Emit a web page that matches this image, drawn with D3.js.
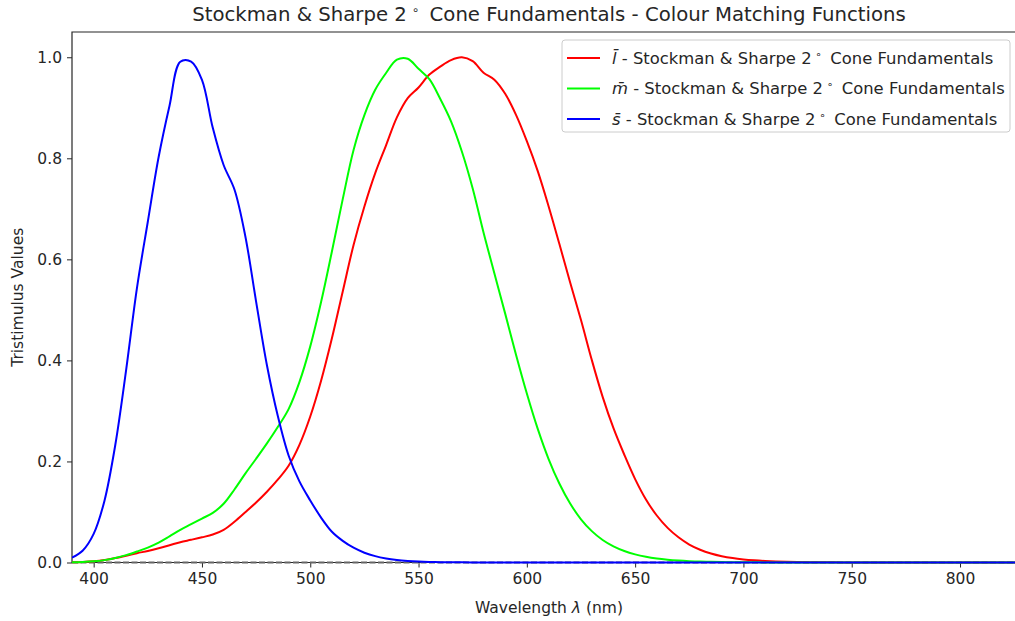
<!DOCTYPE html>
<html>
<head>
<meta charset="utf-8">
<script src="https://cdn.jsdelivr.net/npm/d3@7"></script>
<style>
    body { margin: 0; background: #fff; }
    text { font-family: "DejaVu Sans", sans-serif; fill: #262626; }
</style>
</head>
<body>
<script>
// Stockman & Sharpe 2 degree cone fundamentals, 5 nm steps
var wavelengths = [390,395,400,405,410,415,420,425,430,435,440,445,450,455,460,465,470,475,480,485,
    490,495,500,505,510,515,520,525,530,535,540,545,550,555,560,565,570,575,580,585,
    590,595,600,605,610,615,620,625,630,635,640,645,650,655,660,665,670,675,680,685,
    690,695,700,705,710,715,720,725,730,735,740,745,750,755,760,765,770,775,780,785,
    790,795,800,805,810,815,820,825,830];

var lBar = [0.000415,0.001052,0.002408,0.004833,0.008721,0.013384,0.018448,0.022932,0.028188,0.034105,
    0.040256,0.044938,0.049864,0.055342,0.064716,0.080689,0.099476,0.118802,0.140145,0.163952,
    0.191556,0.232926,0.288959,0.359716,0.443683,0.536494,0.628561,0.704720,0.770630,0.825711,
    0.881011,0.919067,0.940198,0.965733,0.981445,0.994486,0.999993,0.992310,0.969429,0.955602,
    0.927673,0.885969,0.833982,0.775103,0.705713,0.630773,0.554224,0.479941,0.400711,0.327864,
    0.265784,0.213284,0.165141,0.124749,0.093009,0.068510,0.049866,0.035597,0.025330,0.017852,
    0.012498,0.008708,0.006059,0.004218,0.002927,0.002029,0.001406,0.000976,0.000678,0.000472,
    0.000329,0.000230,0.000161,0.000113,0.000079,0.000056,0.000039,0.000028,0.000020,0.000014,
    0.000010,0.000007,0.000005,0.000004,0.000003,0.000002,0.000001,0.000001,0.000001];

var mBar = [0.000368,0.000959,0.002270,0.004700,0.008794,0.014528,0.021665,0.029571,0.039457,0.051820,
    0.064778,0.075881,0.087052,0.098193,0.116272,0.144541,0.175893,0.205398,0.235754,0.268063,
    0.303630,0.357061,0.427764,0.515587,0.615520,0.719154,0.816610,0.885550,0.935687,0.968858,
    0.995217,0.997193,0.977193,0.956583,0.917750,0.873205,0.813509,0.740291,0.653274,0.572597,
    0.492599,0.411246,0.334429,0.264872,0.205273,0.156243,0.116641,0.085587,0.062112,0.044613,
    0.031950,0.022744,0.016105,0.011283,0.007824,0.005453,0.003804,0.002616,0.001797,0.001246,
    0.000864,0.000601,0.000419,0.000292,0.000204,0.000143,0.000101,0.000071,0.000050,0.000036,
    0.000025,0.000018,0.000013,0.000009,0.000007,0.000005,0.000004,0.000003,0.000002,0.000001,
    0.000001,0.000001,0.000001,0,0,0,0,0,0];

var sBar = [0.009547,0.023825,0.056650,0.122451,0.233008,0.381363,0.543618,0.674474,0.802555,0.903573,
    0.991020,0.991515,0.955393,0.860240,0.786704,0.738268,0.646359,0.516411,0.390333,0.290322,
    0.211867,0.160526,0.122839,0.088897,0.060821,0.042812,0.029203,0.019391,0.012601,0.008095,
    0.005089,0.003169,0.001959,0.001203,0.000740,0.000456,0.000282,0.000175,0.000109,0.000069,
    0.000044,0.000028,0.000018,0.000012,0.000008,0.000005,0.000003,0.000002,0.000002,0.000001,
    0.000001,0,0,0,0,0,0,0,0,0,
    0,0,0,0,0,0,0,0,0,0,
    0,0,0,0,0,0,0,0,0,0,
    0,0,0,0,0,0,0,0,0];

var xTicks = [400, 450, 500, 550, 600, 650, 700, 750, 800];
var yTicks = [0.0, 0.2, 0.4, 0.6, 0.8, 1.0];
var seriesNames = ["l", "m", "s"];
var seriesColors = ["#ff0000", "#00ff00", "#0000ff"];

var width = 1015, height = 621;
var mLeft = 72, mTop = 32, mBottom = 562.5, mRight = 1025;

var svg = d3.select("body").append("svg")
    .attr("width", width)
    .attr("height", height);

var x = d3.scaleLinear().domain([390, 830]).range([mLeft, mRight]);
var y = d3.scaleLinear().domain([0, 1.05]).range([mBottom, mTop]);

// axes
var xAxis = svg.append("g")
    .attr("transform", "translate(0," + mBottom + ")")
    .call(d3.axisBottom(x).tickValues(xTicks).tickFormat(d3.format("d")).tickSize(5).tickPadding(5));
var yAxis = svg.append("g")
    .attr("transform", "translate(" + mLeft + ",0)")
    .call(d3.axisLeft(y).tickValues(yTicks).tickFormat(d3.format(".1f")).tickSize(5).tickPadding(5));

[xAxis, yAxis].forEach(function(a) {
    a.select(".domain").remove();
    a.selectAll("line").attr("stroke", "#262626").attr("stroke-width", 1);
    a.selectAll("text").attr("font-size", 15.5).attr("fill", "#262626")
        .style("font-family", "DejaVu Sans");
});

// spines
svg.append("path")
    .attr("d", "M" + mRight + "," + mTop + "H" + mLeft + "V" + mBottom + "H" + mRight)
    .attr("fill", "none")
    .attr("stroke", "#262626")
    .attr("stroke-width", 1.2);

// dashed zero line
svg.append("line")
    .attr("x1", mLeft).attr("x2", width)
    .attr("y1", y(0)).attr("y2", y(0))
    .attr("stroke", "#666")
    .attr("stroke-width", 1.8)
    .attr("stroke-dasharray", "6,2.5");

svg.append("clipPath").attr("id", "plot")
    .append("rect").attr("x", mLeft).attr("y", mTop - 2)
    .attr("width", mRight - mLeft).attr("height", mBottom - mTop + 4);

var series = [lBar, mBar, sBar];
var line = d3.line()
    .x(function(d, i) { return x(wavelengths[i]) })
    .y(function(d) { return y(d) })
    .curve(d3.curveCatmullRom.alpha(0.5));

svg.append("g").attr("clip-path", "url(#plot)")
    .selectAll("path")
    .data(series)
    .enter()
    .append("path")
    .attr("d", line)
    .attr("fill", "none")
    .attr("stroke", function(d, i) { return seriesColors[i] })
    .attr("stroke-width", 2);

// title
var title = svg.append("text")
    .attr("x", 549).attr("y", 21)
    .attr("text-anchor", "middle")
    .attr("font-size", 19.7);
title.append("tspan").text("Stockman & Sharpe 2");
title.append("tspan").attr("dx", 5).attr("dy", -7).attr("font-size", 12).text("\u2218");
title.append("tspan").attr("dx", 4).attr("dy", 7).text(" Cone Fundamentals - Colour Matching Functions");

// axis labels
var xl = svg.append("text")
    .attr("x", 549).attr("y", 613)
    .attr("text-anchor", "middle")
    .attr("font-size", 15.5);
xl.append("tspan").text("Wavelength ");
xl.append("tspan").attr("font-style", "italic").text("\u03bb");
xl.append("tspan").text(" (nm)");

svg.append("text")
    .attr("transform", "translate(23," + ((mTop + mBottom) / 2) + ") rotate(-90)")
    .attr("text-anchor", "middle")
    .attr("font-size", 15.5)
    .text("Tristimulus Values");

// legend
var legend = svg.append("g");
legend.append("rect")
    .attr("x", 562).attr("y", 40)
    .attr("width", 448).attr("height", 92)
    .attr("rx", 3)
    .attr("fill", "#fff").attr("fill-opacity", 0.8)
    .attr("stroke", "#cccccc");

var rows = legend.selectAll("g.row")
    .data(seriesNames)
    .enter()
    .append("g")
    .attr("transform", function(d, i) { return "translate(0," + (58 + i * 30.5) + ")" });

rows.append("line")
    .attr("x1", 567).attr("x2", 600)
    .attr("stroke", function(d, i) { return seriesColors[i] })
    .attr("stroke-width", 2);

var lt = rows.append("text")
    .attr("x", 612).attr("y", 5.5)
    .attr("font-size", 16.4);
lt.append("tspan").attr("font-style", "italic").text(function(d) { return d + "\u0304" });
lt.append("tspan").text(" - Stockman & Sharpe 2");
lt.append("tspan").attr("dx", 4).attr("dy", -6).attr("font-size", 10.5).text("\u2218");
lt.append("tspan").attr("dx", 3).attr("dy", 6).text(" Cone Fundamentals");
</script>
</body>
</html>
